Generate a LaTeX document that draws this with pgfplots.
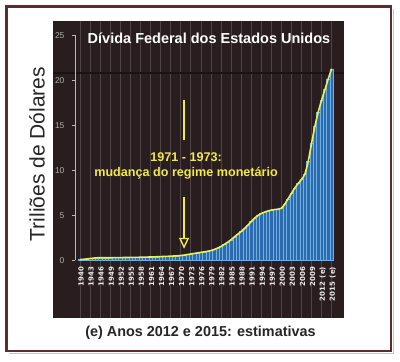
\documentclass[border=0pt]{standalone}
\usepackage{pgfplots}
\pgfplotsset{compat=1.18}
\usepackage{pgfplotstable}
\usepackage{fontspec}
\setmainfont{Liberation Sans}
\newfontfamily\dvs{DejaVu Sans}
\usetikzlibrary{arrows.meta}
\definecolor{panel}{HTML}{2A1D1F}
\definecolor{gridc}{HTML}{4E4345}
\definecolor{barblue}{HTML}{2E6BAE}
\definecolor{barlight}{HTML}{6FB0E4}
\definecolor{lineyel}{HTML}{E6F255}
\definecolor{annyel}{HTML}{F0EA48}
\definecolor{frame}{HTML}{5C2C2E}
\pgfplotstableread{
year debt
1940 0.10
1941 0.13
1942 0.17
1943 0.22
1944 0.26
1945 0.30
1946 0.31
1947 0.31
1948 0.31
1949 0.31
1950 0.32
1951 0.32
1952 0.32
1953 0.33
1954 0.33
1955 0.34
1956 0.34
1957 0.35
1958 0.36
1959 0.37
1960 0.38
1961 0.39
1962 0.40
1963 0.42
1964 0.43
1965 0.45
1966 0.46
1967 0.48
1968 0.50
1969 0.52
1970 0.55
1971 0.60
1972 0.66
1973 0.72
1974 0.78
1975 0.84
1976 0.90
1977 0.96
1978 1.02
1979 1.10
1980 1.22
1981 1.38
1982 1.55
1983 1.78
1984 2.03
1985 2.30
1986 2.62
1987 2.92
1988 3.22
1989 3.55
1990 3.92
1991 4.32
1992 4.70
1993 5.00
1994 5.22
1995 5.38
1996 5.50
1997 5.60
1998 5.66
1999 5.70
2000 5.80
2001 6.25
2002 6.85
2003 7.45
2004 8.05
2005 8.55
2006 9.00
2007 9.60
2008 11.0
2009 13.0
2010 14.9
2011 16.5
2012 17.8
2013 19.0
2014 20.2
2015 21.3
}\debt
\begin{document}
\begin{tikzpicture}
\path[use as bounding box, fill=white] (0pt,0pt) rectangle (400pt,362pt);
% frame with shadow
\draw[gray!45, line width=1.6pt] (9pt,8.5pt) -- (393.5pt,8.5pt) -- (393.5pt,353pt);
\draw[frame, line width=2.6pt] (6.5pt,355.5pt) rectangle (391pt,11pt);
% dark panel
\fill[panel] (53pt,44pt) rectangle (344pt,341pt);
\foreach \i in {0,...,25}{
  \draw[gridc, line width=0.6pt] ({80pt+\i*10.0667pt},44pt) -- ({80pt+\i*10.0667pt},341pt);
}
\draw[black!40!panel, line width=1.2pt] (53pt,289pt) -- (344pt,289pt);
\begin{axis}[
  at={(75pt,101.5pt)}, anchor=south west,
  scale only axis, width=261.7pt, height=225pt,
  xmin=1938.5, xmax=2016.5, ymin=0, ymax=25,
  clip=false,
  axis lines*=left,
  x axis line style={draw=none},
  y axis line style={draw=gray!55, line width=0.6pt},
  ytick={0,5,...,25},
  ytick style={draw=gray!55, line width=0.6pt},
  tick align=outside,
  major tick length=3pt,
  xtick={1940,1943,...,2009,2012,2015},
  xticklabels={1940,1943,1946,1949,1952,1955,1958,1961,1964,1967,1970,1973,1976,1979,1982,1985,1988,1991,1994,1997,2000,2003,2006,2009,{2012 \,(e)},{2015 \,(e)}},
  xtick style={draw=none},
  /pgf/number format/assume math mode=true,
  yticklabel style={font=\fontsize{8.5}{9}\selectfont, text=gray!65, xshift=-4pt},
  xticklabel style={rotate=90, anchor=east, font=\dvs\bfseries\fontsize{7}{8}\selectfont, text=gray!15, yshift=-1pt},
]
\addplot[ybar, bar width=1, fill=barblue, draw=barlight, line width=0.35pt] table[x=year,y=debt] {\debt};
\addplot[smooth, lineyel, line width=1.6pt, no markers] table[x=year,y=debt] {\debt};
\draw[annyel, line width=1.8pt] (axis cs:1971,17.8) -- (axis cs:1971,13.4);
\draw[annyel, line width=1.8pt, -{Triangle[open, length=11pt, width=10pt, line width=1.4pt]}] (axis cs:1971,7.06) -- (axis cs:1971,1.3);
\node[align=center, text=annyel, font=\bfseries\fontsize{12.6}{15}\selectfont] at (axis cs:1971.6,10.56) {1971 - 1973:\\mudança do regime monetário};
\end{axis}
\node[text=white, font=\bfseries\fontsize{14.5}{16}\selectfont] at (209pt,324pt) {Dívida Federal dos Estados Unidos};
\node[rotate=90, text=black!85, font=\fontsize{21}{23}\selectfont] at (37pt,208pt) {Triliões de Dólares};
\node[text=black!85, font=\bfseries\fontsize{14.4}{16}\selectfont] at (200.5pt,29pt) {(e) Anos 2012 e 2015: estimativas};
\end{tikzpicture}
\end{document}
